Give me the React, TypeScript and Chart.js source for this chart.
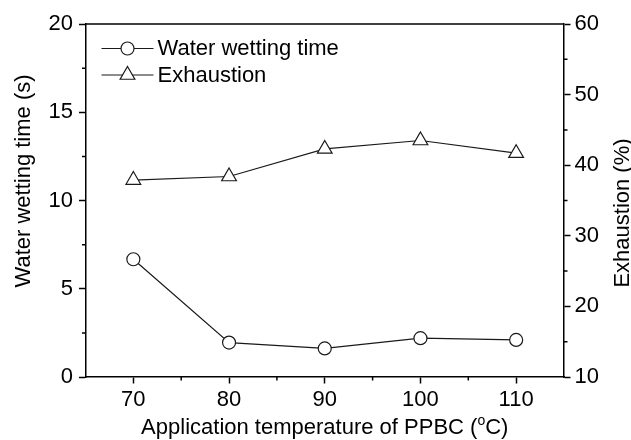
import React, { useEffect, useRef } from "react";
import { Chart, registerables } from "chart.js";

Chart.register(...registerables);

const temperatures = [70, 80, 90, 100, 110];
const wettingTime = [6.67, 1.95, 1.62, 2.2, 2.1];
const exhaustion = [37.9, 38.4, 42.3, 43.5, 41.7];

const xMajorTicks = [70, 80, 90, 100, 110];
const xMinorTicks = [75, 85, 95, 105];
const yLeftMajorTicks = [0, 5, 10, 15, 20];
const yLeftMinorTicks = [2.5, 7.5, 12.5, 17.5];
const yRightMajorTicks = [10, 20, 30, 40, 50, 60];
const yRightMinorTicks = [15, 25, 35, 45, 55];

const seriesNames = ["Water wetting time", "Exhaustion"];
const xTitleParts = ["Application temperature of PPBC (", "o", "C)"];
const yLeftTitle = "Water wetting time (s)";
const yRightTitle = "Exhaustion (%)";

const FONT = "'Liberation Sans', Arial, sans-serif";
const FS = 22;
const INK = "#1a1a1a";

const framePlugin = {
  id: "frameAndLegend",
  afterDraw(chart: any) {
    const { ctx, chartArea, scales } = chart;
    ctx.save();
    ctx.strokeStyle = "#000";
    ctx.lineWidth = 1.5;
    // top frame line
    ctx.beginPath();
    ctx.moveTo(chartArea.left, chartArea.top);
    ctx.lineTo(chartArea.right, chartArea.top);
    ctx.stroke();
    // minor ticks
    const minorLen = 3.5;
    ctx.beginPath();
    xMinorTicks.forEach((v) => {
      const px = scales.x.getPixelForValue(v);
      ctx.moveTo(px, chartArea.bottom);
      ctx.lineTo(px, chartArea.bottom + minorLen);
    });
    yLeftMinorTicks.forEach((v) => {
      const py = scales.y.getPixelForValue(v);
      ctx.moveTo(chartArea.left, py);
      ctx.lineTo(chartArea.left - minorLen, py);
    });
    yRightMinorTicks.forEach((v) => {
      const py = scales.y1.getPixelForValue(v);
      ctx.moveTo(chartArea.right, py);
      ctx.lineTo(chartArea.right + minorLen, py);
    });
    ctx.stroke();

    // axis titles
    ctx.fillStyle = "#000";
    ctx.font = `${FS}px ${FONT}`;
    ctx.textBaseline = "alphabetic";
    // x title with superscript o
    const small = `${Math.round(FS * 0.62)}px ${FONT}`;
    const w0 = ctx.measureText(xTitleParts[0]).width;
    const w2 = ctx.measureText(xTitleParts[2]).width;
    ctx.font = small;
    const w1 = ctx.measureText(xTitleParts[1]).width;
    const total = w0 + w1 + w2;
    const cx = (chartArea.left + chartArea.right) / 2;
    let tx = cx - total / 2;
    const baseY = 434;
    ctx.textAlign = "left";
    ctx.font = `${FS}px ${FONT}`;
    ctx.fillText(xTitleParts[0], tx, baseY);
    tx += w0;
    ctx.font = small;
    ctx.fillText(xTitleParts[1], tx, baseY - 9);
    tx += w1;
    ctx.font = `${FS}px ${FONT}`;
    ctx.fillText(xTitleParts[2], tx, baseY);

    // left title (rotated, reading bottom to top)
    ctx.save();
    ctx.translate(29.5, 181);
    ctx.rotate(-Math.PI / 2);
    ctx.textAlign = "center";
    ctx.fillText(yLeftTitle, 0, 0);
    ctx.restore();

    // right title (rotated, reading bottom to top)
    ctx.save();
    ctx.translate(628.5, 213);
    ctx.rotate(-Math.PI / 2);
    ctx.textAlign = "center";
    ctx.fillText(yRightTitle, 0, 0);
    ctx.restore();

    // legend
    const lx0 = chartArea.left + 16;
    const lx1 = chartArea.left + 68;
    const mx = (lx0 + lx1) / 2;
    const rows = [48.5, 75];
    ctx.strokeStyle = INK;
    ctx.lineWidth = 1.2;
    ctx.font = `${FS}px ${FONT}`;
    ctx.textBaseline = "alphabetic";
    ctx.textAlign = "left";
    rows.forEach((y, i) => {
      ctx.beginPath();
      ctx.moveTo(lx0, y);
      ctx.lineTo(lx1, y);
      ctx.stroke();
      ctx.beginPath();
      if (i === 0) {
        ctx.arc(mx, y, 6.5, 0, Math.PI * 2);
      } else {
        const r = 8.5;
        ctx.moveTo(mx, y - r);
        ctx.lineTo(mx + r * Math.sin(Math.PI * 2 / 3), y + r / 2);
        ctx.lineTo(mx - r * Math.sin(Math.PI * 2 / 3), y + r / 2);
        ctx.closePath();
      }
      ctx.fillStyle = "#fff";
      ctx.fill();
      ctx.stroke();
      ctx.fillStyle = "#000";
      ctx.fillText(seriesNames[i], lx1 + 4, y + 6.5);
    });
    ctx.restore();
  },
};

export default function App() {
  const canvasRef = useRef<HTMLCanvasElement | null>(null);

  useEffect(() => {
    document.body.style.margin = "0";
    const canvas = canvasRef.current;
    if (!canvas) return;
    Chart.defaults.font.family = FONT;
    const tickFont = { family: FONT, size: FS };
    const grid = {
      display: true,
      drawOnChartArea: false,
      drawTicks: true,
      tickLength: 6.5,
      tickWidth: 1.5,
      tickColor: "#000",
    };
    const border = { display: true, color: "#000", width: 1.5 };

    const chart = new Chart(canvas, {
      type: "line",
      data: {
        labels: temperatures,
        datasets: [
          {
            label: seriesNames[0],
            data: temperatures.map((t, i) => ({ x: t, y: wettingTime[i] })),
            yAxisID: "y",
            borderColor: INK,
            borderWidth: 1.2,
            pointStyle: "circle",
            pointRadius: 6.5,
            pointBackgroundColor: "#fff",
            pointBorderColor: INK,
            pointBorderWidth: 1.2,
            tension: 0,
          },
          {
            label: seriesNames[1],
            data: temperatures.map((t, i) => ({ x: t, y: exhaustion[i] })),
            yAxisID: "y1",
            borderColor: INK,
            borderWidth: 1.2,
            pointStyle: "triangle",
            pointRadius: 8.5,
            pointBackgroundColor: "#fff",
            pointBorderColor: INK,
            pointBorderWidth: 1.2,
            tension: 0,
          },
        ],
      },
      options: {
        responsive: false,
        animation: false,
        layout: { padding: { top: 24, left: 0, right: 0, bottom: 0 } },
        plugins: { legend: { display: false }, tooltip: { enabled: false } },
        scales: {
          x: {
            type: "linear",
            position: "bottom",
            min: 65,
            max: 115,
            afterBuildTicks: (s: any) => {
              s.ticks = xMajorTicks.map((v) => ({ value: v }));
            },
            afterFit: (s: any) => {
              s.height = 63;
            },
            grid,
            border,
            ticks: { font: tickFont, color: "#000", padding: 3, maxRotation: 0 },
            title: { display: false },
          },
          y: {
            type: "linear",
            position: "left",
            min: 0,
            max: 20,
            afterBuildTicks: (s: any) => {
              s.ticks = yLeftMajorTicks.map((v) => ({ value: v }));
            },
            afterFit: (s: any) => {
              s.width = 85.5;
            },
            grid,
            border,
            ticks: { font: tickFont, color: "#000", padding: 6 },
            title: { display: false },
          },
          y1: {
            type: "linear",
            position: "right",
            min: 10,
            max: 60,
            afterBuildTicks: (s: any) => {
              s.ticks = yRightMajorTicks.map((v) => ({ value: v }));
            },
            afterFit: (s: any) => {
              s.width = 67;
            },
            grid,
            border,
            ticks: { font: tickFont, color: "#000", padding: 4 },
            title: { display: false },
          },
        },
      },
      plugins: [framePlugin],
    } as any);
    return () => chart.destroy();
  }, []);

  return (
    <div style={{ width: 631, height: 440, background: "#fff" }}>
      <canvas ref={canvasRef} width={631} height={440} />
    </div>
  );
}
